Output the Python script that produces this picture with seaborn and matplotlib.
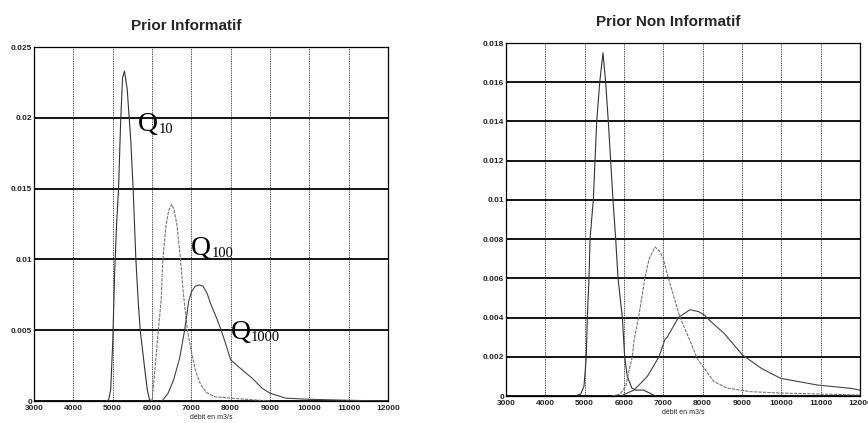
import matplotlib
matplotlib.use("Agg")
import matplotlib.pyplot as plt
import seaborn as sns
import pandas as pd

# ---------------- data ----------------
x_ticks = [3000, 4000, 5000, 6000, 7000, 8000, 9000, 10000, 11000, 12000]
x_tick_labels = [str(v) for v in x_ticks]
left_y_ticks = [0, 0.005, 0.01, 0.015, 0.02, 0.025]
left_y_labels = ["0", "0.005", "0.01", "0.015", "0.02", "0.025"]
right_y_ticks = [0, 0.002, 0.004, 0.006, 0.008, 0.01, 0.012, 0.014, 0.016, 0.018]
right_y_labels = ["0", "0.002", "0.004", "0.006", "0.008", "0.01", "0.012", "0.014", "0.016", "0.018"]

titles = ["Prior Informatif", "Prior Non Informatif"]
x_label = "débit en m3/s"

# Prior informatif
inf_q10_x = [4850, 4900, 4950, 5000, 5050, 5100, 5150, 5200, 5250, 5300, 5370, 5420, 5460, 5520, 5590, 5650, 5700, 5810, 5880, 5935, 6000]
inf_q10_y = [0, 0.0001, 0.0008, 0.004, 0.009, 0.0125, 0.015, 0.0195, 0.0228, 0.0233, 0.022, 0.020, 0.0184, 0.015, 0.010, 0.007, 0.005, 0.0024, 0.0008, 0.0001, 0]
inf_q100_x = [6000, 6100, 6160, 6230, 6275, 6360, 6430, 6500, 6560, 6630, 6725, 6800, 6900, 7000, 7100, 7230, 7380, 7600, 8000, 8500, 9000]
inf_q100_y = [0, 0.003, 0.005, 0.007, 0.010, 0.0125, 0.0135, 0.0139, 0.0135, 0.0125, 0.010, 0.0075, 0.005, 0.0035, 0.0022, 0.0012, 0.0006, 0.0003, 0.0002, 0.0001, 0]
inf_q1000_x = [6250, 6400, 6550, 6700, 6830, 6930, 7000, 7100, 7200, 7300, 7400, 7500, 7650, 7760, 7900, 8000, 8250, 8550, 8800, 9000, 9400, 10000, 11000, 12000]
inf_q1000_y = [0, 0.0005, 0.0015, 0.003, 0.005, 0.007, 0.0077, 0.0081, 0.0082, 0.0081, 0.0076, 0.0068, 0.0058, 0.005, 0.0038, 0.0029, 0.0023, 0.0016, 0.0009, 0.00055, 0.0002, 0.00012, 0.00005, 0]

# Prior non informatif
non_q10_x = [4750, 4900, 4983, 5042, 5067, 5110, 5136, 5220, 5306, 5383, 5466, 5534, 5601, 5720, 5789, 5848, 5958, 6017, 6084, 6200, 6300, 6500, 6700, 6800]
non_q10_y = [0, 0.0001, 0.0005, 0.002, 0.004, 0.006, 0.008, 0.010, 0.014, 0.016, 0.0175, 0.016, 0.014, 0.010, 0.008, 0.006, 0.004, 0.002, 0.001, 0.0004, 0.0003, 0.0003, 0.0001, 0]
non_q100_x = [5700, 5900, 6043, 6150, 6211, 6260, 6370, 6530, 6640, 6790, 6900, 7000, 7128, 7425, 7660, 7864, 8288, 8627, 9220, 10000, 11000, 12000]
non_q100_y = [0, 0.0001, 0.0005, 0.0015, 0.002, 0.0029, 0.004, 0.006, 0.007, 0.0076, 0.0074, 0.007, 0.006, 0.004, 0.0029, 0.0019, 0.00073, 0.0004, 0.00022, 0.00015, 0.0001, 0.00005]
non_q1000_x = [5916, 6254, 6593, 6890, 7043, 7100, 7381, 7677, 7900, 8060, 8205, 8543, 9008, 9500, 9983, 10915, 11763, 12000]
non_q1000_y = [0, 0.0003, 0.001, 0.002, 0.0029, 0.003, 0.004, 0.0044, 0.0043, 0.0041, 0.0038, 0.0032, 0.0021, 0.0014, 0.0009, 0.00056, 0.00039, 0.0003]

q_letter = "Q"
q_subscripts = ["10", "100", "1000"]
q_label_x = [5650, 7000, 8000]
q_label_y = [0.0191, 0.0103, 0.0044]

# ---------------- style ----------------
sns.set_theme(style="white")
plt.rcParams["font.family"] = ["Liberation Sans", "DejaVu Sans"]

fig = plt.figure(figsize=(8.68, 4.23), dpi=100)
ax1 = fig.add_axes([34 / 868, 22 / 423, 354 / 868, 354 / 423])
ax2 = fig.add_axes([506 / 868, 27 / 423, 354 / 868, 353 / 423])

def make_df(xs, ys, name):
    return pd.DataFrame({"x": xs, "y": ys, "serie": name})

series_inf = [(inf_q10_x, inf_q10_y), (inf_q100_x, inf_q100_y), (inf_q1000_x, inf_q1000_y)]
series_non = [(non_q10_x, non_q10_y), (non_q100_x, non_q100_y), (non_q1000_x, non_q1000_y)]
line_colors = ["#333333", "#777777", "#444444"]
line_styles = ["-", (0, (3, 1)), "-"]

for ax, series, yt, yl, ymax, title, tx in [
    (ax1, series_inf, left_y_ticks, left_y_labels, 0.025, titles[0], 0.43),
    (ax2, series_non, right_y_ticks, right_y_labels, 0.018, titles[1], 0.458),
]:
    for (xs, ys), c, ls in zip(series, line_colors, line_styles):
        df = make_df(xs, ys, "s")
        sns.lineplot(data=df, x="x", y="y", ax=ax, color=c, lw=0.8,
                     linestyle=ls, sort=False, estimator=None, legend=False)
    ax.set_xlim(3000, 12000)
    ax.set_ylim(0, ymax)
    ax.set_xticks(x_ticks)
    ax.set_xticklabels(x_tick_labels, fontsize=6, fontweight="bold")
    ax.set_yticks(yt)
    ax.set_yticklabels(yl, fontsize=6, fontweight="bold")
    ax.tick_params(axis="y", length=0, pad=1.5)
    ax.tick_params(axis="x", length=0, pad=3)
    ax.yaxis.grid(True, color="black", lw=1.3)
    ax.xaxis.grid(True, color="#444444", lw=0.7, linestyle=(0, (1, 0.8)))
    ax.set_axisbelow(True)
    for s in ax.spines.values():
        s.set_color("black")
        s.set_linewidth(0.9)
        s.set_visible(True)
    ax.set_xlabel(x_label, fontsize=5, labelpad=1.5)
    ax.set_ylabel("")
    ax.set_title(title, fontsize=11, fontweight="bold", x=tx, pad=12)

for sub, lx, ly in zip(q_subscripts, q_label_x, q_label_y):
    ax1.text(lx, ly, q_letter, fontsize=20, ha="left", va="baseline",
             color="black", family="Liberation Serif")
    ax1.annotate(sub, xy=(lx, ly), xytext=(14.5, -1.5), textcoords="offset points",
                 fontsize=10.5, ha="left", va="baseline", color="black",
                 family="Liberation Serif")

fig.savefig("out.png", dpi=100, facecolor="white")
